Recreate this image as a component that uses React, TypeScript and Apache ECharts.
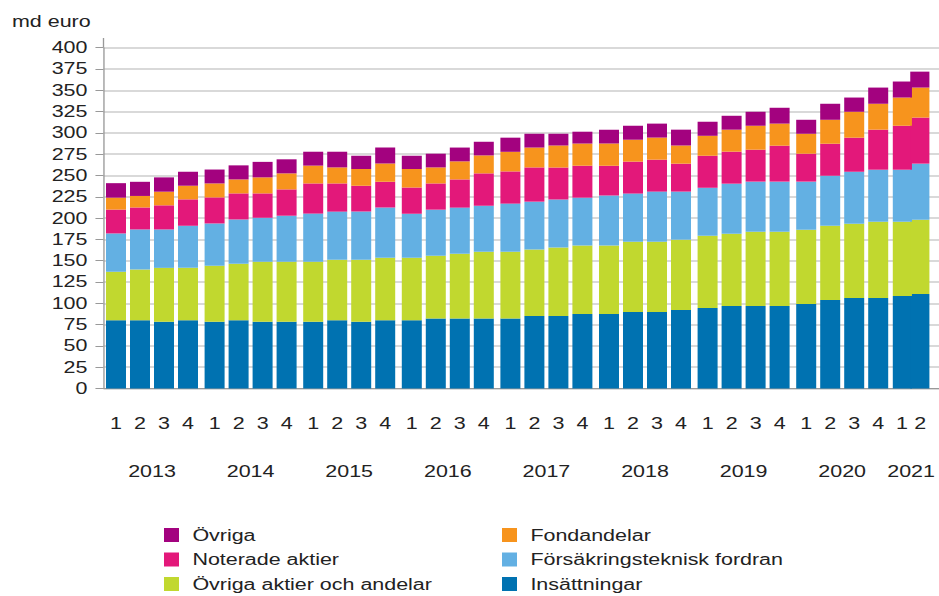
import React, { useEffect, useRef } from 'react';
import * as echarts from 'echarts';

// ---- data ----
const years = ['2013', '2014', '2015', '2016', '2017', '2018', '2019', '2020', '2021'];
const quartersPerYear = [4, 4, 4, 4, 4, 4, 4, 4, 2];
const quarterLabels = ['1', '2', '3', '4'];

const insattningar = [80.2, 80.2, 78.2, 80.2, 78.2, 80.2, 78.2, 78.2, 78.2, 80.2, 78.2, 80.2, 80.2, 82.2, 82.2, 82.2, 82.2, 85.0, 85.0, 87.4, 87.4, 89.8, 89.8, 92.2, 94.5, 96.9, 96.9, 96.9, 99.2, 103.9, 106.3, 106.3, 108.6, 110.9];
const ovrigaAktier = [56.8, 59.5, 63.4, 61.4, 65.8, 66.2, 70.5, 70.5, 70.5, 70.8, 72.8, 73.2, 73.2, 73.6, 76.0, 78.4, 78.4, 78.0, 80.4, 80.3, 80.3, 82.5, 82.5, 82.5, 84.9, 84.8, 87.2, 87.2, 87.2, 87.2, 87.1, 89.5, 87.2, 87.1];
const forsakring = [45.0, 47.0, 45.1, 49.4, 49.7, 52.0, 51.7, 54.1, 56.6, 56.6, 56.6, 58.9, 51.6, 54.1, 54.1, 53.9, 56.4, 56.3, 56.3, 56.3, 58.7, 56.5, 58.8, 56.4, 56.2, 58.7, 58.7, 58.7, 56.4, 58.6, 61.0, 61.0, 61.0, 65.9];
const noterade = [28.0, 25.8, 28.3, 31.0, 30.6, 30.6, 28.6, 30.9, 35.4, 33.1, 30.4, 30.3, 31.0, 30.8, 33.1, 38.0, 37.8, 40.2, 37.8, 37.5, 35.1, 37.5, 37.5, 32.8, 37.6, 37.6, 37.5, 42.2, 32.8, 37.6, 40.0, 47.0, 51.6, 54.1];
const fondandelar = [14.0, 13.5, 16.0, 16.0, 16.4, 16.4, 18.8, 18.8, 20.9, 18.8, 19.5, 21.6, 21.5, 18.8, 21.2, 21.1, 23.0, 23.3, 25.7, 26.0, 26.0, 25.7, 25.9, 21.3, 23.4, 25.8, 28.1, 25.9, 23.4, 28.1, 30.4, 30.4, 33.1, 35.2];
const ovriga = [17.0, 16.6, 16.8, 16.4, 16.3, 16.5, 18.2, 16.5, 16.3, 18.4, 15.7, 18.6, 15.7, 16.1, 16.2, 16.0, 16.6, 16.2, 13.8, 13.9, 16.3, 16.4, 16.4, 18.6, 16.5, 16.3, 16.4, 18.6, 16.4, 18.8, 16.7, 19.0, 18.8, 18.7];

const seriesDefs = [
  { name: 'Insättningar', data: insattningar, color: '#0072b1' },
  { name: 'Övriga aktier och andelar', data: ovrigaAktier, color: '#c1d82f' },
  { name: 'Försäkringsteknisk fordran', data: forsakring, color: '#63b0e3' },
  { name: 'Noterade aktier', data: noterade, color: '#e3187a' },
  { name: 'Fondandelar', data: fondandelar, color: '#f7941d' },
  { name: 'Övriga', data: ovriga, color: '#a3027f' },
];
const legendLeft = ['Övriga', 'Noterade aktier', 'Övriga aktier och andelar'];
const legendRight = ['Fondandelar', 'Försäkringsteknisk fordran', 'Insättningar'];
const unitLabel = 'md euro';

// ---- layout ----
const W = 700;
const H = 596;
const S = 939 / W;
const FONT = '"Liberation Sans", Arial, sans-serif';
const TOP = 47.7;
const BOTTOM = 596 - 388.5;
const TEXT = '#222222';

export default function App() {
  const ref = useRef<HTMLDivElement>(null);
  useEffect(() => {
    const chart = echarts.init(ref.current!, null, { renderer: 'svg' });
    const grids: any[] = [{ left: 103.5 / S, right: 0, top: TOP, bottom: BOTTOM }];
    const xAxes: any[] = [{
      gridIndex: 0, type: 'value', min: 0, max: 1,
      axisLine: { show: true, lineStyle: { color: '#999999', width: 1 } },
      axisTick: { show: false }, axisLabel: { show: false }, splitLine: { show: false },
    }];
    const yAxes: any[] = [{
      gridIndex: 0, type: 'value', min: 0, max: 400, interval: 25,
      axisLine: { show: true, lineStyle: { color: '#999999', width: 1 } },
      axisTick: { show: true, length: 6, lineStyle: { color: '#999999' } },
      axisLabel: { margin: 12, fontSize: 16, color: TEXT, fontFamily: FONT },
      splitLine: { show: true, lineStyle: { color: '#cccccc', width: 1.5 } },
    }];
    const series: any[] = [];
    let offset = 0;
    years.forEach((yr, k) => {
      const n = quartersPerYear[k];
      grids.push({ left: (104 + k * 98.6) / S, width: (n * 24) / S, top: TOP, bottom: BOTTOM });
      xAxes.push({
        gridIndex: k + 1, type: 'category', data: quarterLabels.slice(0, n),
        axisLine: { show: false }, axisTick: { show: false },
        axisLabel: { interval: 0, margin: 27, fontSize: 16, color: TEXT, fontFamily: FONT },
        name: yr, nameLocation: 'middle', nameGap: 75,
        nameTextStyle: { fontSize: 16, color: TEXT, fontFamily: FONT },
      });
      yAxes.push({ gridIndex: k + 1, type: 'value', min: 0, max: 400, show: false });
      seriesDefs.forEach((sd) => {
        series.push({
          type: 'bar', name: sd.name, xAxisIndex: k + 1, yAxisIndex: k + 1,
          stack: 'y' + k, barWidth: 20 / S,
          data: sd.data.slice(offset, offset + n),
          itemStyle: { color: sd.color },
          emphasis: { disabled: true },
        });
      });
      offset += n;
    });
    const legendCommon = {
      orient: 'vertical', icon: 'rect', itemWidth: 15 / S, itemHeight: 14, itemGap: 8.5,
      selectedMode: false, top: 527, padding: 0, height: 68,
      textStyle: { fontSize: 16, color: TEXT, fontFamily: FONT, lineHeight: 16, padding: [0, 0, 0, 5] },
    };
    chart.setOption({
      animation: false,
      backgroundColor: '#ffffff',
      grid: grids,
      xAxis: xAxes,
      yAxis: yAxes,
      series,
      legend: [
        { ...legendCommon, left: 164 / S, data: legendLeft },
        { ...legendCommon, left: 502 / S, data: legendRight },
      ],
      graphic: [
        { type: 'text', left: 12 / S, top: 14, style: { text: unitLabel, fontSize: 16, fill: TEXT, fontFamily: FONT } },
        { type: 'line', shape: { x1: 103.5 / S, y1: 38, x2: 103.5 / S, y2: TOP }, style: { stroke: '#999999', lineWidth: 1 } },
      ],
    });
    return () => chart.dispose();
  }, []);
  return (
    <div style={{ position: 'fixed', left: 0, top: 0, width: 939, height: 596, overflow: 'hidden', background: '#ffffff' }}>
      <div ref={ref} style={{ width: W, height: H, transform: `scaleX(${S})`, transformOrigin: '0 0' }} />
    </div>
  );
}
